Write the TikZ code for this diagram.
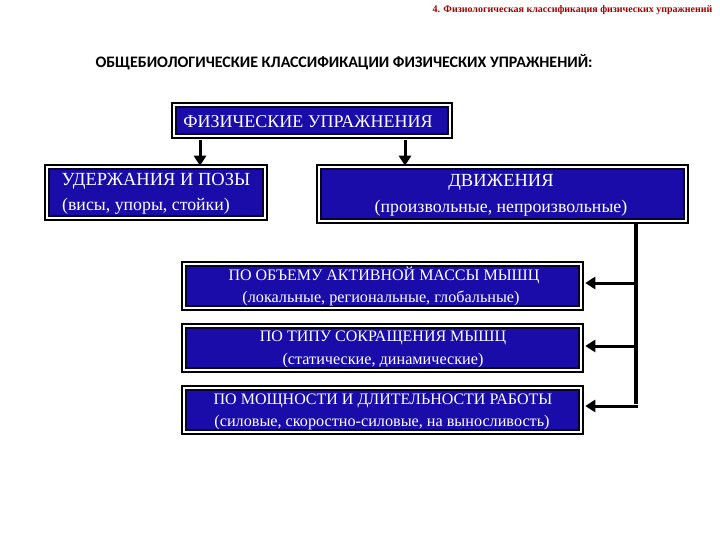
\documentclass[tikz,border=0pt]{standalone}
\usepackage{fontspec}
\setmainfont{Liberation Serif}
\newfontfamily\titlefont{Carlito}
\usetikzlibrary{arrows.meta}
\definecolor{boxblue}{RGB}{26,12,168}
\definecolor{boxnavy}{RGB}{8,4,40}
\definecolor{hdrred}{RGB}{160,0,0}
\tikzset{
  cbox/.style={fill=boxblue, draw=boxnavy, line width=2.5pt, inner sep=0pt, text=white, align=center,
    append after command={\pgfextra{\draw[black, line width=2pt]
      ([shift={(-3pt,3pt)}]\tikzlastnode.north west) rectangle ([shift={(3pt,-3pt)}]\tikzlastnode.south east);}}},
  ttxt/.style={anchor=base, inner sep=0pt, text=white, font=\fontsize{18.5}{20}\selectfont},
  tsub/.style={anchor=base, inner sep=0pt, text=white, font=\fontsize{17.8}{20}\selectfont},
  btxt/.style={anchor=base, inner sep=0pt, text=white, font=\fontsize{16}{18}\selectfont},
  stxt/.style={anchor=base, inner sep=0pt, text=white, font=\fontsize{16.2}{18}\selectfont},
  arr/.style={line width=3pt, -{Triangle[width=12pt,length=10pt]}},
  link/.style={line width=4pt},
}
\begin{document}
\begin{tikzpicture}[x=1pt,y=-1pt]
\useasboundingbox (0,0) rectangle (720,540);
\node[anchor=east, text=hdrred, font=\fontsize{10}{12}\selectfont\bfseries] (hdr) at (716,10) {4. Физиологическая классификация физических упражнений};
\node[anchor=west, font=\titlefont\bfseries\fontsize{16}{18}\selectfont] (title) at (92,62) {ОБЩЕБИОЛОГИЧЕСКИЕ КЛАССИФИКАЦИИ ФИЗИЧЕСКИХ УПРАЖНЕНИЙ:};

\node[cbox, minimum width=272, minimum height=27] (fu) at (312,120.5) {};
\node[ttxt, font=\fontsize{18}{20}\selectfont] (fut) at (308,128) {ФИЗИЧЕСКИЕ УПРАЖНЕНИЯ};

\node[cbox, minimum width=214, minimum height=47] (ud) at (156,192.5) {};
\node[ttxt] (udt) at (156,186) {УДЕРЖАНИЯ И ПОЗЫ};
\node[tsub] (uds) at (146,211) {(висы, упоры, стойки)};

\node[cbox, minimum width=363, minimum height=50] (dv) at (502.5,194) {};
\node[ttxt] (dvt) at (501,187) {ДВИЖЕНИЯ};
\node[tsub] (dvs) at (501,213) {(произвольные, непроизвольные)};

\node[cbox, minimum width=393, minimum height=40] (ob) at (382.5,286) {};
\node[btxt] (obt) at (384,280) {ПО ОБЪЕМУ АКТИВНОЙ МАССЫ МЫШЦ};
\node[stxt] (obs) at (381,302.5) {(локальные, региональные, глобальные)};

\node[cbox, minimum width=393, minimum height=40] (ts) at (382.5,348) {};
\node[btxt] (tst) at (383,341) {ПО ТИПУ СОКРАЩЕНИЯ МЫШЦ};
\node[stxt] (tss) at (383,364) {(статические, динамические)};

\node[cbox, minimum width=393, minimum height=40] (mo) at (382.5,410) {};
\node[btxt] (mot) at (383,404) {ПО МОЩНОСТИ И ДЛИТЕЛЬНОСТИ РАБОТЫ};
\node[stxt] (mos) at (382,426.5) {(силовые, скоростно-силовые, на выносливость)};

\draw[arr] ([yshift=-5pt]fu.south -| 200,0) -- ([yshift=2pt]ud.north -| 200,0);
\draw[arr] ([yshift=-5pt]fu.south -| 405,0) -- ([yshift=2pt]dv.north -| 405,0);

\coordinate (c1) at (636,283);
\coordinate (c2) at (636,346);
\coordinate (c3) at (636,406);
\draw[link] ([yshift=-3pt]dv.south -| c1) -- ([yshift=2pt]c3);
\draw[arr] (c1) -- ([xshift=5pt]ob.east |- c1);
\draw[arr] (c2) -- ([xshift=5pt]ts.east |- c2);
\draw[arr] ([xshift=2pt]c3) -- ([xshift=5pt]mo.east |- c3);
\end{tikzpicture}
\end{document}
